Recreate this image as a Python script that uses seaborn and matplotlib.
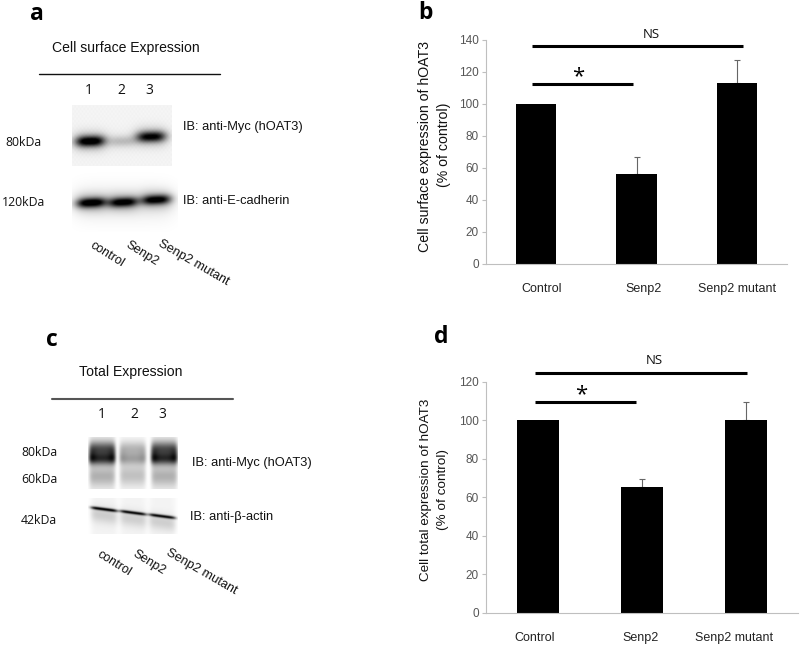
import numpy as np
import pandas as pd
import matplotlib
matplotlib.use("Agg")
import matplotlib.pyplot as plt
from matplotlib.transforms import ScaledTranslation
import seaborn as sns

categories = ["Control", "Senp2", "Senp2 mutant"]
surface_values = [100, 56, 113]
surface_errors = [0, 10.7, 14]
total_values = [100, 65.5, 100]
total_errors = [0, 4, 9.7]
surface_ticks = [0, 20, 40, 60, 80, 100, 120, 140]
total_ticks = [0, 20, 40, 60, 80, 100, 120]

# relative band darkness per lane, read from the blots
surface_myc = [1.0, 0.2, 0.9]
surface_ecad = [1.0, 0.95, 0.95]
total_myc = [1.0, 0.42, 1.0]
total_actin = [0.95, 0.9, 0.9]

sns.set_theme(style="white")
plt.rcParams["font.family"] = ["Liberation Sans", "DejaVu Sans"]

W, H = 800, 645
fig = plt.figure(figsize=(W / 100, H / 100), dpi=100)


def px_axes(x0, x1, ytop, ybot):
    return fig.add_axes([x0 / W, 1 - ybot / H, (x1 - x0) / W, (ybot - ytop) / H])


def bars(ax, values, errors, ticks, ymax, shifts):
    df = pd.DataFrame({"group": categories, "value": values})
    sns.barplot(data=df, x="group", y="value", color="black", saturation=1,
                width=0.4, errorbar=None, linewidth=0, ax=ax, zorder=2)
    shown = [i for i, e in enumerate(errors) if e > 0]
    ax.errorbar(shown, [values[i] for i in shown],
                yerr=[[0] * len(shown), [errors[i] for i in shown]], fmt="none",
                ecolor="#666666", elinewidth=0.8, capsize=2, capthick=0.8, zorder=1)
    ax.set_xlim(-0.5, 2.5)
    ax.set_ylim(0, ymax)
    ax.set_yticks(ticks)
    ax.set_xlabel("")
    ax.set_ylabel("")
    for s in ("top", "right"):
        ax.spines[s].set_visible(False)
    for s in ("left", "bottom"):
        ax.spines[s].set_color("#bfbfbf")
        ax.spines[s].set_linewidth(0.8)
    ax.tick_params(axis="y", length=3, width=0.8, color="#bfbfbf", labelsize=8.5,
                   labelcolor="#555555", pad=2, left=True)
    ax.tick_params(axis="x", length=0, labelsize=9, labelcolor="#222222", pad=14)
    for lab, dx in zip(ax.get_xticklabels(), shifts):
        lab.set_transform(lab.get_transform() + ScaledTranslation(dx / 100, 0, fig.dpi_scale_trans))


bars(px_axes(486, 787, 39.5, 263.7), surface_values, surface_errors, surface_ticks, 140, [5, 7, 0])
bars(px_axes(486, 798, 381.7, 612.7), total_values, total_errors, total_ticks, 120, [-3, -1, -12])

ov = fig.add_axes([0, 0, 1, 1])
ov.patch.set_visible(False)


def grid(x0, x1, y0, y1):
    return np.meshgrid(np.arange(x0, x1, 0.5), np.arange(y0, y1, 0.5))


def show(ink, x0, x1, y0, y1):
    ov.imshow(1 - np.clip(ink, 0, 1), cmap="gray", vmin=0, vmax=1, aspect="auto",
              extent=(x0, x1, y1, y0), interpolation="bilinear")


def band(X, Y, cx, cy, wx, sy, tilt=0.0):
    return np.exp(-np.abs((X - cx) / wx) ** 3) * np.exp(-(((Y - cy - tilt * (X - cx)) / sy) ** 2))


# Panel a, upper blot
X, Y = grid(72, 172, 105, 166)
ink = 0.045 + 0.012 * np.sin(X * 1.7) * np.cos(Y * 1.3)
for d, cx, cy in zip(surface_myc, [90, 122, 151], [141, 141, 136.5]):
    ink = ink + d * 0.82 * band(X, Y, cx, cy, 14.5, 5.2, -0.03)
    ink = ink + d * 0.3 * band(X, Y, cx, cy, 16.5, 9.5)
show(ink, 72, 172, 105, 166)

# Panel a, lower blot
X, Y = grid(72, 178, 170, 232)
fade = np.exp(-(((Y - 203) / 17) ** 2)) * np.exp(-np.abs((X - 124) / 50) ** 6)
ink = 0.09 * fade
for d, cx, cy in zip(surface_ecad, [91, 123, 156], [202.5, 202, 199.5]):
    ink = ink + d * 0.8 * band(X, Y, cx, cy, 14.5, 4.6, -0.05)
    ink = ink + d * 0.3 * band(X, Y, cx, cy, 16.5, 9.0)
show(ink, 72, 178, 170, 232)

# Panel c, upper blot
X, Y = grid(88, 178, 437, 489)
ink = np.zeros_like(X)
for d, cx in zip(total_myc, [102, 132.5, 164]):
    mask = np.exp(-np.abs((X - cx) / 13) ** 8)
    edge = 1 + 0.5 * np.abs((X - cx) / 12.5) ** 3 * np.exp(-(((Y - 456) / 10) ** 2))
    prof = (0.62 * np.exp(-(((Y - 459) / 6) ** 2)) + 0.62 * np.exp(-(((Y - 449) / 8) ** 2))
            + 0.25 * np.exp(-(((Y - 476) / 10) ** 2)) + 0.06)
    ink = ink + d * mask * edge * prof
    ink = ink + 0.1 * mask * (1 - d) * 2 * np.exp(-(((Y - 474) / 12) ** 2))
show(ink, 88, 178, 437, 489)

# Panel c, lower blot
X, Y = grid(88, 178, 498, 534)
ink = np.zeros_like(X)
for d, cx, cy in zip(total_actin, [104, 133, 162], [509, 512.5, 516]):
    mask = np.exp(-np.abs((X - cx) / 13.5) ** 6)
    yy = Y - cy - 0.13 * (X - cx)
    line = np.exp(-((yy / 1.5) ** 2))
    haze = 0.16 * np.exp(-((yy - 6) / 8) ** 2) + 0.05
    ink = ink + d * mask * (line + haze)
show(ink, 88, 178, 498, 534)

ov.set_xlim(0, W)
ov.set_ylim(H, 0)
ov.axis("off")


def txt(x, y, s, size=9.5, ha="center", rot=0, family="Liberation Sans", weight="normal", color="#111111"):
    ov.text(x, y, s, fontsize=size, ha=ha, va="center", rotation=rot, rotation_mode="anchor",
            family=family, fontweight=weight, color=color)


# Panel letters
for x, y, s in [(37, 14, "a"), (425, 13, "b"), (52, 340, "c"), (441, 337, "d")]:
    txt(x, y, s, size=16.5, family="Open Sans", weight="bold", color="black")

# Panel a annotations
txt(126, 48, "Cell surface Expression", 10.1)
ov.plot([39, 220], [74, 74], color="#111111", lw=1)
for x, s in zip([89, 121, 149], "123"):
    txt(x, 90, s, 10, family="Open Sans")
txt(23, 142, "80kDa", 8.8, family="Open Sans")
txt(23, 202, "120kDa", 8.8, family="Open Sans")
txt(183, 127, "IB: anti-Myc (hOAT3)", 9.3, ha="left")
txt(183, 201, "IB: anti-E-cadherin", 9.3, ha="left")
txt(107, 254, "control", 9, rot=-32)
txt(142, 254, "Senp2", 9, rot=-32)
txt(193, 263, "Senp2 mutant", 9.2, rot=-30)

# Panel c annotations
txt(131, 372, "Total Expression", 10.1)
ov.plot([51.5, 233], [399, 399], color="#555555", lw=1.5)
for x, s in zip([102, 134, 162], "123"):
    txt(x, 415, s, 10, family="Open Sans")
txt(39, 453, "80kDa", 8.8, family="Open Sans")
txt(39, 479.5, "60kDa", 8.8, family="Open Sans")
txt(39, 520, "42kDa", 8.8, family="Open Sans")
txt(192, 463, "IB: anti-Myc (hOAT3)", 9.3, ha="left")
txt(190, 517, "IB: anti-β-actin", 9.3, ha="left")
txt(114, 563, "control", 9, rot=-32)
txt(149, 563, "Senp2", 9, rot=-32)
txt(201, 572, "Senp2 mutant", 9.2, rot=-30)

# Panel b annotations
ov.plot([532, 743], [46, 46], color="black", lw=2.2, solid_capstyle="butt")
txt(651, 34.5, "NS", 9.5, family="Open Sans")
ov.plot([532, 633], [84, 84], color="black", lw=2.2, solid_capstyle="butt")
txt(578, 77, "*", 16, family="Open Sans", color="black")
txt(425, 147, "Cell surface expression of hOAT3", 10.2, rot=90)
txt(444, 145, "(% of control)", 10.2, rot=90)

# Panel d annotations
ov.plot([535, 747], [372.5, 372.5], color="black", lw=2.2, solid_capstyle="butt")
txt(654, 361, "NS", 9.5, family="Open Sans")
ov.plot([535, 636], [402, 402], color="black", lw=2.2, solid_capstyle="butt")
txt(581, 395, "*", 16, family="Open Sans", color="black")
txt(426, 490, "Cell total expression of hOAT3", 9.7, rot=90)
txt(443, 489, "(% of control)", 9.7, rot=90)

fig.savefig("out.png", dpi=100, facecolor="white")
